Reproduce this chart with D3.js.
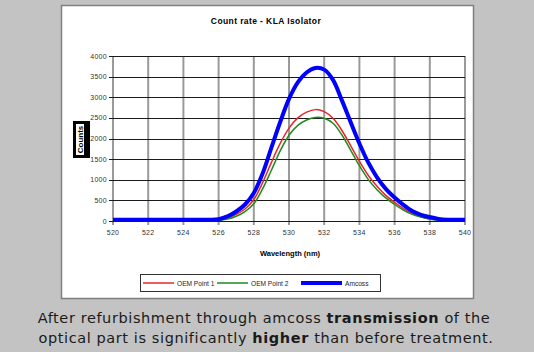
<!DOCTYPE html>
<html>
<head>
<meta charset="utf-8">
<script src="https://cdn.jsdelivr.net/npm/d3@7"></script>
<style>
  html, body { margin: 0; padding: 0; background: #c3c3c3; }
  svg { display: block; }
</style>
</head>
<body>
<script>
// chart data
var wavelengths = [520, 521, 522, 523, 524, 525, 525.5, 526, 526.5, 527, 527.5, 528, 528.5, 529, 529.5,
                   530, 530.5, 531, 531.5, 532, 532.5, 533, 533.5, 534, 534.5, 535, 535.5,
                   536, 536.5, 537, 537.5, 538, 538.5, 539, 539.5, 540];
var oemPoint1 = [20, 20, 20, 20, 20, 20, 20, 25, 70, 160, 290, 520, 930, 1420, 1880,
                 2250, 2500, 2640, 2700, 2650, 2490, 2200, 1830, 1450, 1110, 840, 620,
                 450, 300, 185, 105, 55, 30, 20, 20, 20];
var oemPoint2 = [15, 15, 15, 15, 15, 15, 15, 15, 45, 115, 230, 420, 780, 1230, 1700,
                 2080, 2320, 2450, 2510, 2490, 2370, 2090, 1720, 1340, 1010, 760, 560,
                 400, 265, 160, 95, 45, 20, 15, 15, 15];
var amcoss = [30, 30, 30, 30, 30, 30, 30, 45, 110, 230, 400, 680, 1150, 1780, 2400,
              2960, 3360, 3600, 3710, 3670, 3420, 2930, 2400, 1880, 1420, 1060, 780,
              570, 390, 240, 150, 95, 50, 30, 30, 30];
var seriesNames = ["OEM Point 1", "OEM Point 2", "Amcoss"];
var xTicks = [520, 522, 524, 526, 528, 530, 532, 534, 536, 538, 540];
var yTicks = [0, 500, 1000, 1500, 2000, 2500, 3000, 3500, 4000];

var w = 534;
var h = 352;

var svg = d3.select("body").append("svg")
    .attr("width", w)
    .attr("height", h);

// white chart panel
svg.append("rect")
    .attr("x", 61.5).attr("y", 5.5)
    .attr("width", 412).attr("height", 293)
    .attr("fill", "#fff")
    .attr("stroke", "#808080")
    .attr("stroke-width", 1.5);

// plot area (don't call it "top", that's window.top)
var pLeft = 113, pRight = 465, pTop = 56, pBottom = 221;

var x = d3.scaleLinear().domain([520, 540]).range([pLeft, pRight]);
var y = d3.scaleLinear().domain([0, 4000]).range([pBottom, pTop]);

// vertical grid (grey, thicker)
svg.append("g").selectAll("line")
    .data(xTicks)
    .enter().append("line")
    .attr("x1", function(d){ return x(d); })
    .attr("x2", function(d){ return x(d); })
    .attr("y1", pTop).attr("y2", pBottom + 4)
    .attr("stroke", "#9a9a9a")
    .attr("stroke-width", 2);

// horizontal grid (black, thin)
svg.append("g").selectAll("line")
    .data(yTicks)
    .enter().append("line")
    .attr("x1", pLeft - 4).attr("x2", pRight)
    .attr("y1", function(d){ return Math.round(y(d)) + 0.5; })
    .attr("y2", function(d){ return Math.round(y(d)) + 0.5; })
    .attr("stroke", "#1a1a1a")
    .attr("stroke-width", 1);

// tick labels
svg.append("g").selectAll("text")
    .data(yTicks)
    .enter().append("text")
    .attr("x", pLeft - 6)
    .attr("y", function(d){ return y(d) + 2.5; })
    .attr("text-anchor", "end")
    .attr("font-family", "Liberation Sans, Arial, sans-serif")
    .attr("font-size", 7)
    .attr("letter-spacing", 0.3)
    .attr("fill", "#333")
    .text(function(d){ return d; });

svg.append("g").selectAll("text")
    .data(xTicks)
    .enter().append("text")
    .attr("x", function(d){ return x(d); })
    .attr("y", pBottom + 14)
    .attr("text-anchor", "middle")
    .attr("font-family", "Liberation Sans, Arial, sans-serif")
    .attr("font-size", 7)
    .attr("letter-spacing", 0.3)
    .attr("fill", "#333")
    .text(function(d){ return d; });

// series lines (Excel-style smoothed)
var colors = ["#e8262a", "#218a21", "#0000ff"];
var widths = [1.5, 1.5, 4];
var seriesData = [oemPoint1, oemPoint2, amcoss];

var line = d3.line()
    .x(function(d){ return x(d[0]); })
    .y(function(d){ return y(d[1]); })
    .curve(d3.curveCatmullRom.alpha(0.5));

seriesData.forEach(function(vals, i){
    var pts = wavelengths.map(function(wl, j){ return [wl, vals[j]]; });
    svg.append("path")
        .attr("d", line(pts))
        .attr("fill", "none")
        .attr("stroke", colors[i])
        .attr("stroke-width", widths[i])
        .attr("stroke-linejoin", "round");
});

// title
svg.append("text")
    .attr("x", 266).attr("y", 24)
    .attr("text-anchor", "middle")
    .attr("font-family", "Liberation Sans, Arial, sans-serif")
    .attr("font-size", 8.5)
    .attr("font-weight", "bold")
    .attr("letter-spacing", 0.4)
    .text("Count rate - KLA Isolator");

// x axis title
svg.append("text")
    .attr("x", 290).attr("y", 256)
    .attr("text-anchor", "middle")
    .attr("font-family", "Liberation Sans, Arial, sans-serif")
    .attr("font-size", 7.5)
    .attr("font-weight", "bold")
    .text("Wavelength (nm)");

// y axis title: black box with rotated text
svg.append("rect")
    .attr("x", 73).attr("y", 121)
    .attr("width", 17).attr("height", 37)
    .attr("fill", "#000");
svg.append("rect")
    .attr("x", 76).attr("y", 124)
    .attr("width", 8).attr("height", 31)
    .attr("fill", "#fff");
svg.append("text")
    .attr("transform", "translate(83,139.5) rotate(-90)")
    .attr("text-anchor", "middle")
    .attr("font-family", "Liberation Sans, Arial, sans-serif")
    .attr("font-size", 8)
    .attr("font-weight", "bold")
    .text("Counts");

// legend
var legend = svg.append("g");
legend.append("rect")
    .attr("x", 140.5).attr("y", 274.5)
    .attr("width", 240).attr("height", 17)
    .attr("fill", "#fff")
    .attr("stroke", "#333")
    .attr("stroke-width", 1);

var legendX = [143, 217, 301];
var legendLen = [31, 31, 41];
seriesNames.forEach(function(name, i){
    legend.append("line")
        .attr("x1", legendX[i]).attr("x2", legendX[i] + legendLen[i])
        .attr("y1", 283).attr("y2", 283)
        .attr("stroke", colors[i])
        .attr("stroke-width", widths[i]);
    legend.append("text")
        .attr("x", legendX[i] + legendLen[i] + 3)
        .attr("y", 285.5)
        .attr("font-family", "Liberation Sans, Arial, sans-serif")
        .attr("font-size", 6.6)
        .attr("fill", "#222")
        .text(name);
});

// caption under the chart
var caption = svg.append("text")
    .attr("text-anchor", "middle")
    .attr("font-family", "DejaVu Sans, Verdana, sans-serif")
    .attr("font-size", 14.5)
    .attr("letter-spacing", 0.6)
    .attr("fill", "#1a1a1a");
var l1 = caption.append("tspan").attr("x", 264).attr("y", 323);
l1.append("tspan").text("After refurbishment through amcoss ");
l1.append("tspan").attr("font-weight", "bold").text("transmission");
l1.append("tspan").text(" of the");
var l2 = caption.append("tspan").attr("x", 266).attr("y", 342.5);
l2.append("tspan").text("optical part is significantly ");
l2.append("tspan").attr("font-weight", "bold").text("higher");
l2.append("tspan").text(" than before treatment.");
</script>
</body>
</html>
